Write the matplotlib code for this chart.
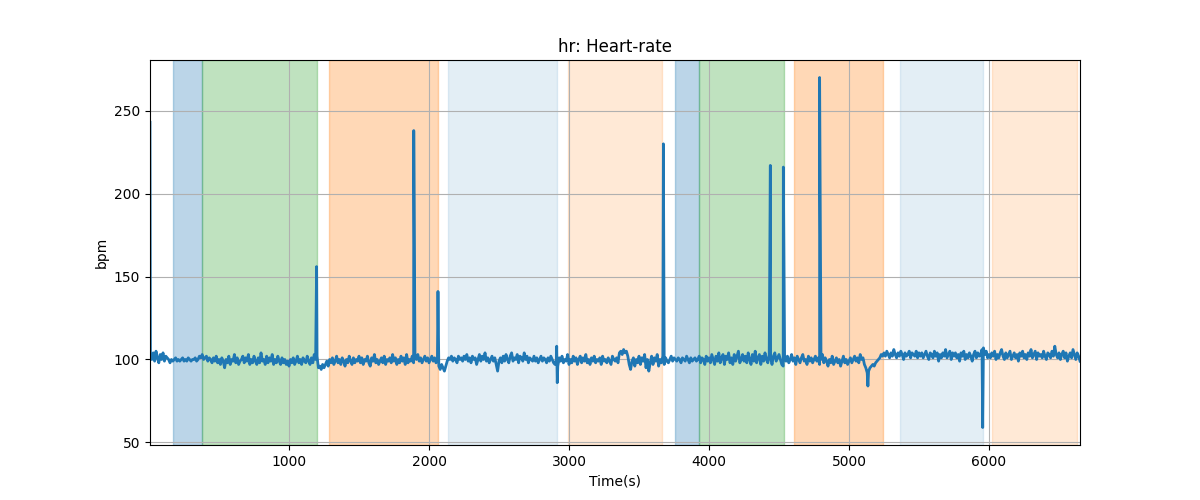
import numpy as np
import matplotlib
matplotlib.use("Agg")
import matplotlib.pyplot as plt

# heart-rate samples, one every 10 s starting at t=10
SAMPLE_START = 10
SAMPLE_STEP = 10
hr = [
    # 10 - 250
    103, 100, 104, 99, 105, 101, 98, 103, 100, 104, 99, 102, 101, 100, 98, 100, 99, 100, 101, 99, 100, 99, 100, 101, 99,
    # 260 - 500
    100, 99, 101, 100, 99, 100, 100, 101, 99, 100, 102, 101, 103, 100, 101, 102, 99, 101, 100, 98, 101, 99, 102, 98, 100,
    # 510 - 750
    97, 101, 99, 95, 100, 98, 102, 97, 100, 99, 103, 98, 101, 97, 99, 100, 102, 98, 101, 99, 103, 97, 100, 98, 102,
    # 760 - 1000
    99, 97, 101, 98, 104, 99, 100, 97, 102, 98, 101, 99, 103, 97, 100, 98, 102, 99, 97, 101, 98, 100, 97, 99, 96,
    # 1010 - 1250
    100, 98, 101, 97, 99, 102, 98, 100, 97, 101, 99, 98, 102, 99, 97, 101, 98, 103, 100, 102, 95, 96, 94, 97, 95,
    # 1260 - 1500
    97, 99, 96, 100, 98, 101, 97, 99, 102, 98, 100, 97, 101, 99, 96, 100, 98, 102, 99, 97, 101, 98, 100, 99, 102,
    # 1510 - 1750
    98, 101, 97, 100, 99, 102, 98, 96, 101, 99, 103, 98, 100, 97, 99, 101, 98, 102, 97, 100, 99, 101, 98, 103, 99,
    # 1760 - 2000
    101, 97, 100, 98, 102, 99, 101, 97, 103, 98, 100, 99, 102, 98, 101, 100, 103, 99, 101, 98, 100, 102, 99, 101, 98,
    # 2010 - 2250
    100, 102, 99, 101, 98, 100, 96, 94, 97, 95, 93, 96, 99, 101, 100, 102, 99, 101, 100, 98, 102, 100, 101, 99, 102,
    # 2260 - 2500
    100, 103, 99, 101, 98, 102, 100, 101, 97, 100, 103, 99, 102, 100, 104, 99, 101, 98, 100, 102, 99, 101, 97, 93, 99,
    # 2510 - 2750
    101, 98, 102, 99, 103, 100, 98, 102, 104, 99, 101, 100, 103, 98, 102, 101, 99, 104, 100, 102, 98, 101, 100, 99, 102,
    # 2760 - 3000
    99, 101, 98, 100, 102, 99, 101, 100, 98, 101, 99, 102, 100, 98, 97, 100, 96, 101, 99, 102, 98, 100, 99, 103, 97,
    # 3010 - 3250
    100, 98, 102, 99, 101, 97, 100, 102, 98, 101, 99, 103, 98, 100, 97, 101, 99, 102, 98, 100, 99, 101, 97, 102, 99,
    # 3260 - 3500
    100, 98, 101, 99, 97, 102, 100, 99, 101, 98, 104, 105, 103, 106, 104, 105, 102, 97, 94, 99, 101, 96, 100, 98, 102,
    # 3510 - 3750
    97, 101, 99, 103, 95, 100, 93, 98, 102, 97, 101, 99, 103, 96, 100, 98, 102, 97, 101, 99, 98, 100, 102, 99, 101,
    # 3760 - 4000
    100, 99, 101, 100, 98, 101, 100, 99, 102, 100, 98, 101, 99, 100, 101, 99, 100, 102, 98, 101, 100, 97, 102, 99, 101,
    # 4010 - 4250
    98, 103, 100, 97, 102, 99, 104, 98, 101, 103, 97, 102, 100, 104, 98, 101, 97, 103, 99, 102, 105, 98, 100, 103, 99,
    # 4260 - 4500
    102, 98, 104, 100, 97, 103, 99, 105, 98, 101, 103, 97, 102, 99, 104, 100, 98, 103, 101, 97, 102, 104, 99, 101, 103,
    # 4510 - 4750
    100, 97, 96, 101, 99, 102, 98, 100, 103, 99, 101, 97, 102, 100, 98, 101, 103, 99, 100, 97, 102, 99, 101, 98, 100,
    # 4760 - 5000
    102, 99, 101, 97, 100, 103, 98, 101, 99, 96, 100, 98, 102, 97, 99, 101, 98, 100, 96, 99, 102, 98, 100, 97, 99,
    # 5010 - 5250
    101, 98, 100, 102, 99, 101, 98, 103, 100, 101, 97, 95, 92, 93, 95, 96, 97, 96, 98, 99, 100, 101, 103, 102, 104,
    # 5260 - 5500
    102, 105, 103, 101, 104, 102, 106, 103, 101, 104, 102, 105, 103, 100, 104, 102, 103, 105, 101, 104, 103, 102, 105, 101, 104,
    # 5510 - 5750
    102, 104, 101, 103, 105, 102, 100, 104, 103, 101, 105, 102, 104, 99, 103, 101, 104, 102, 106, 101, 103, 105, 100, 104, 102,
    # 5760 - 6000
    104, 101, 103, 99, 104, 102, 105, 100, 103, 101, 104, 102, 99, 103, 105, 101, 104, 102, 103, 106, 107, 103, 105, 101, 103,
    # 6010 - 6250
    101, 104, 102, 105, 100, 103, 101, 104, 106, 102, 100, 104, 101, 103, 105, 100, 102, 104, 101, 103, 99, 104, 102, 105, 101,
    # 6260 - 6500
    103, 100, 104, 102, 106, 101, 103, 105, 100, 104, 102, 103, 101, 105, 102, 100, 104, 103, 101, 105, 102, 108, 103, 101, 104,
    # 6510 - 6650
    100, 103, 105, 101, 104, 99, 102, 104, 101, 106, 103, 100, 104, 102, 99,
]

# single-sample artefacts
spike_t = [7, 1197, 1891, 2064, 2912, 2916, 3674, 4438, 4531, 4790, 5135, 5955]
spike_v = [243, 156, 238, 141, 108, 86, 230, 217, 216, 270, 84, 59]

# activity periods
span_start = [171, 379, 1286, 2138, 2995, 3757, 3929, 4607, 5364, 6021]
span_end = [376, 1198, 2062, 2914, 3664, 3926, 4536, 5243, 5955, 6629]
span_kind = ["blue", "green", "orange", "lightblue", "lightorange",
             "blue", "green", "orange", "lightblue", "lightorange"]

span_style = {
    "blue": ("tab:blue", 0.3),
    "green": ("tab:green", 0.3),
    "orange": ("tab:orange", 0.3),
    "lightblue": ("tab:blue", 0.12),
    "lightorange": ("tab:orange", 0.17),
}

t = SAMPLE_START + SAMPLE_STEP * np.arange(len(hr))
all_t = np.concatenate([t, spike_t])
all_v = np.concatenate([hr, spike_v])
order = np.argsort(all_t, kind="stable")
all_t = all_t[order]
all_v = all_v[order]

fig, ax = plt.subplots(figsize=(12, 5), dpi=100)

for s, e, k in zip(span_start, span_end, span_kind):
    c, a = span_style[k]
    ax.axvspan(s, e, color=c, alpha=a)

ax.plot(all_t, all_v, color="tab:blue", lw=2)
ax.set_xlim(all_t[0], all_t[-1])
ax.grid(True)
ax.set_title("hr: Heart-rate")
ax.set_xlabel("Time(s)")
ax.set_ylabel("bpm")

fig.savefig("out.png")
